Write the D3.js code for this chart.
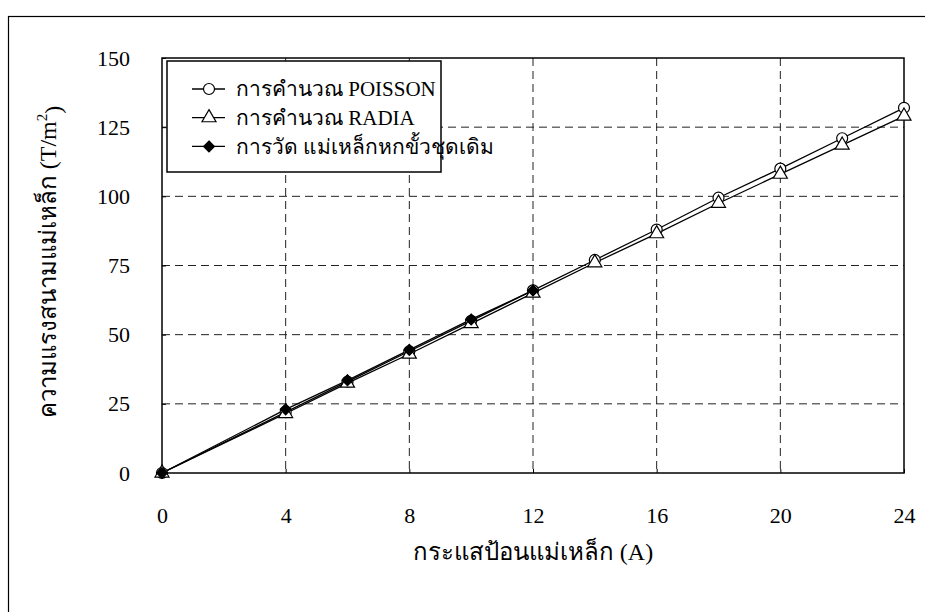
<!DOCTYPE html>
<html>
<head>
<meta charset="utf-8">
<script src="https://cdn.jsdelivr.net/npm/d3@7"></script>
<style>
  body { margin: 0; background: #fff; }
  text { font-family: "Liberation Serif", "Times New Roman", serif; fill: #000; }
</style>
</head>
<body>
<div id="chart"></div>
<script>
// data
var currentX = [0, 4, 6, 8, 10, 12, 14, 16, 18, 20, 22, 24];
var poissonY = [0, 22, 33, 44, 55, 66, 77, 88, 99.5, 110, 121, 132];
var radiaY = [0, 21.5, 32.5, 43, 54, 65, 76, 86.5, 97.5, 108, 118.5, 129];
var measuredX = [0, 4, 6, 8, 10, 12];
var measuredY = [0, 23, 33.5, 44.5, 55.5, 66];
var xTicks = [0, 4, 8, 12, 16, 20, 24];
var yTicks = [0, 25, 50, 75, 100, 125, 150];
var seriesNames = ["การคำนวณ POISSON", "การคำนวณ RADIA", "การวัด แม่เหล็กหกขั้วชุดเดิม"];

var svgWidth = 925;
var svgHeight = 612;

var margin = { top: 58, right: 21, bottom: 139, left: 162 };
var width = svgWidth - margin.left - margin.right;
var height = svgHeight - margin.top - margin.bottom;

var svg = d3.select("#chart")
  .append("svg")
  .attr("width", svgWidth)
  .attr("height", svgHeight);

// outer frame
svg.append("rect")
  .attr("x", 8.5).attr("y", 16.5)
  .attr("width", 1000).attr("height", 700)
  .attr("fill", "none").attr("stroke", "#000").attr("stroke-width", 1.2);

var chartGroup = svg.append("g")
  .attr("transform", `translate(${margin.left}, ${margin.top})`);

var xScale = d3.scaleLinear().domain([0, 24]).range([0, width]);
var yScale = d3.scaleLinear().domain([0, 150]).range([height, 0]);

// dashed grid
chartGroup.append("g")
  .selectAll("line")
  .data(xTicks.slice(1, -1))
  .enter()
  .append("line")
  .attr("x1", d => xScale(d)).attr("x2", d => xScale(d))
  .attr("y1", 0).attr("y2", height)
  .attr("stroke", "#222").attr("stroke-width", 1)
  .attr("stroke-dasharray", "8,5");

chartGroup.append("g")
  .selectAll("line")
  .data(yTicks.slice(1, -1))
  .enter()
  .append("line")
  .attr("x1", 0).attr("x2", width)
  .attr("y1", d => yScale(d)).attr("y2", d => yScale(d))
  .attr("stroke", "#222").attr("stroke-width", 1)
  .attr("stroke-dasharray", "8,5");

// axes
var bottomAxis = d3.axisBottom(xScale).tickValues(xTicks).tickSize(-4).tickPadding(34);
var leftAxis = d3.axisLeft(yScale).tickValues(yTicks).tickSize(-4).tickPadding(32);

var xAxisG = chartGroup.append("g")
  .attr("transform", `translate(0, ${height})`)
  .call(bottomAxis);
var yAxisG = chartGroup.append("g").call(leftAxis);

[xAxisG, yAxisG].forEach(function(g) {
  g.select(".domain").remove();
  g.selectAll("line").attr("stroke", "#000");
  g.selectAll("text")
    .attr("font-family", "Liberation Serif, serif")
    .attr("font-size", "22px")
    .attr("fill", "#000");
});

// plot frame
chartGroup.append("rect")
  .attr("width", width).attr("height", height)
  .attr("fill", "none").attr("stroke", "#000").attr("stroke-width", 1.5);

// series lines
var lineGen = d3.line()
  .x(d => xScale(d[0]))
  .y(d => yScale(d[1]));

var poissonData = currentX.map((x, i) => [x, poissonY[i]]);
var radiaData = currentX.map((x, i) => [x, radiaY[i]]);
var measuredData = measuredX.map((x, i) => [x, measuredY[i]]);

function drawLine(data) {
  chartGroup.append("path")
    .datum(data)
    .attr("d", lineGen)
    .attr("fill", "none")
    .attr("stroke", "#000")
    .attr("stroke-width", 1.3);
}
drawLine(poissonData);
drawLine(radiaData);
drawLine(measuredData);

var circleSym = d3.symbol().type(d3.symbolCircle).size(95);
var triSym = d3.symbol().type(d3.symbolTriangle).size(85);
var diamondSym = d3.symbol().type(d3.symbolDiamond2).size(75);

function drawMarkers(data, sym, fill) {
  chartGroup.append("g")
    .selectAll("path")
    .data(data)
    .enter()
    .append("path")
    .attr("d", sym)
    .attr("transform", d => `translate(${xScale(d[0])}, ${yScale(d[1])})`)
    .attr("fill", fill)
    .attr("stroke", "#000")
    .attr("stroke-width", 1.2);
}
drawMarkers(poissonData, circleSym, "#fff");
drawMarkers(radiaData, triSym, "#fff");
drawMarkers(measuredData, diamondSym, "#000");

// legend
var legend = chartGroup.append("g").attr("transform", "translate(5, 3)");
legend.append("rect")
  .attr("width", 274).attr("height", 111)
  .attr("fill", "#fff").attr("stroke", "#000").attr("stroke-width", 1.5);

var legendSyms = [circleSym, triSym, diamondSym];
var legendFills = ["#fff", "#fff", "#000"];
seriesNames.forEach(function(name, i) {
  var gy = 28 + i * 28.7;
  legend.append("line")
    .attr("x1", 25).attr("x2", 58)
    .attr("y1", gy).attr("y2", gy)
    .attr("stroke", "#000").attr("stroke-width", 1.3);
  legend.append("path")
    .attr("d", legendSyms[i])
    .attr("transform", `translate(42, ${gy})`)
    .attr("fill", legendFills[i])
    .attr("stroke", "#000").attr("stroke-width", 1.2);
  legend.append("text")
    .attr("x", 69).attr("y", gy)
    .attr("dy", "0.35em")
    .attr("font-size", "21px")
    .text(name);
});

// axis titles
svg.append("text")
  .attr("x", margin.left + width / 2)
  .attr("y", 560)
  .attr("text-anchor", "middle")
  .attr("font-size", "24px")
  .text("กระแสป้อนแม่เหล็ก (A)");

var yTitle = svg.append("text")
  .attr("transform", "translate(56, 262) rotate(-90)")
  .attr("text-anchor", "middle")
  .attr("font-size", "24px");
yTitle.append("tspan").text("ความแรงสนามแม่เหล็ก (T/m");
yTitle.append("tspan").attr("dy", "-0.6em").attr("font-size", "15px").text("2");
yTitle.append("tspan").attr("dy", "0.6em").text(")");
</script>
</body>
</html>
